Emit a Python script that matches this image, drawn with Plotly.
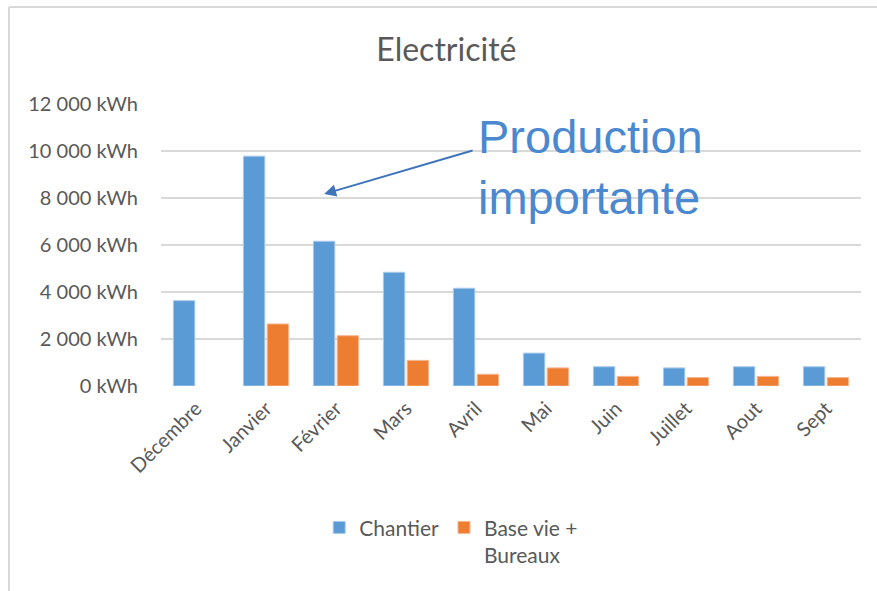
import plotly.graph_objects as go

months = ["Décembre", "Janvier", "Février", "Mars", "Avril", "Mai", "Juin", "Juillet", "Aout", "Sept"]
chantier = [3630, 9780, 6160, 4840, 4160, 1400, 820, 770, 820, 820]
base_vie = [None, 2640, 2140, 1090, 500, 770, 410, 360, 410, 360]
y_tick_vals = [0, 2000, 4000, 6000, 8000, 10000, 12000]
y_tick_text = ["0 kWh", "2 000 kWh", "4 000 kWh", "6 000 kWh", "8 000 kWh", "10 000 kWh", "12 000 kWh"]

FONT = "Lato"
GRAY = "#595959"

fig = go.Figure()
fig.add_trace(go.Bar(x=months, y=chantier, name="Chantier",
                     marker=dict(color="#5b9bd5", line=dict(color="#a9cbec", width=1))))
fig.add_trace(go.Bar(x=months, y=base_vie, name="Base vie +<br>Bureaux",
                     marker=dict(color="#ed7d31", line=dict(color="#f6b78f", width=1))))

fig.update_layout(
    width=877, height=591,
    margin=dict(l=161, r=16, t=104, b=205),
    paper_bgcolor="white", plot_bgcolor="white",
    barmode="group", bargap=0.32, bargroupgap=0.1,
    font=dict(family=FONT, color=GRAY, size=20),
    title=dict(text="Electricité", x=0.509, xanchor="center", y=0.915, yanchor="middle",
               font=dict(family=FONT, size=32, color=GRAY)),
    showlegend=True,
    legend=dict(orientation="h", x=0.226, xanchor="left", y=-0.43, yanchor="top",
                font=dict(family=FONT, size=21, color=GRAY), valign="top"),
)
fig.update_yaxes(range=[0, 12000], tickvals=y_tick_vals, ticktext=y_tick_text,
                 showgrid=True, gridcolor="#d9d9d9", gridwidth=2, zeroline=False,
                 showline=False, ticks="", ticklabelstandoff=22, fixedrange=True,
                 tickfont=dict(size=20))
fig.update_xaxes(tickangle=-45, showgrid=False, showline=False, zeroline=False,
                 ticks="", ticklabelstandoff=6, fixedrange=True, tickfont=dict(size=20))

# annotation text and arrow
fig.add_annotation(x=4.0, y=9319, xref="x", yref="y", text="Production<br>importante",
                   showarrow=False, xanchor="left", yanchor="middle", align="left",
                   font=dict(family="Liberation Sans", size=47, color="#4a88d0"))
fig.add_annotation(x=1.83, y=8170, xref="x", yref="y", text="", showarrow=True,
                   ax=150, ay=-44, arrowhead=2, arrowsize=1.2, arrowwidth=2,
                   arrowcolor="#3e74bb")

# outer frame (left and top)
fig.add_shape(type="line", xref="paper", yref="paper", x0=(9 - 161) / 700, x1=(9 - 161) / 700,
              y0=(386 - 7) / 282, y1=(386 - 600) / 282, line=dict(color="#d9d9d9", width=2))
fig.add_shape(type="line", xref="paper", yref="paper", x0=(9 - 161) / 700, x1=(880 - 161) / 700,
              y0=(386 - 7) / 282, y1=(386 - 7) / 282, line=dict(color="#d9d9d9", width=2))

fig.write_html("out.html")
